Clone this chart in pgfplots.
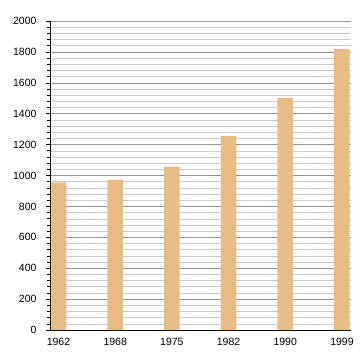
\documentclass[border=0pt]{standalone}
\usepackage{pgfplots}
\pgfplotsset{compat=1.18}
\usetikzlibrary{calc}
\usepackage{fontspec}
\setmainfont{Liberation Sans}
\definecolor{barc}{RGB}{231,187,132}
\definecolor{majg}{RGB}{150,150,150}
\definecolor{ming}{RGB}{205,205,205}
\begin{document}
\begin{tikzpicture}
\begin{axis}[
  scale only axis,
  width=301bp, height=309bp,
  xmin=-0.15, xmax=5.16,
  ymin=0, ymax=2000,
  axis x line*=bottom,
  axis y line*=left,
  xtick={0,1,2,3,4,5},
  xticklabels={1962,1968,1975,1982,1990,1999},
  x tick style={draw=none},
  ytick={0,200,...,2000},
  minor y tick num=4,
  ymajorgrids, yminorgrids,
  major grid style={majg, line width=0.6pt},
  minor grid style={ming, line width=0.5pt},
  tick align=outside,
  major tick length=4bp,
  minor tick length=2.5bp,
  y tick style={black, line width=0.6pt},
  axis line style={black, line width=0.9pt},
  tick label style={font=\fontsize{10.5bp}{12bp}\selectfont},
  xticklabel style={yshift=-1bp},
  yticklabel style={xshift=-6bp},
  /pgf/number format/assume math mode=true,
  /pgf/number format/1000 sep={},
  clip=false,
]
\addplot[ybar, bar width=15.5bp, fill=barc, draw=none] coordinates {
  (0,956) (1,971) (2,1057) (3,1256) (4,1503) (5,1819)
};
\end{axis}
\useasboundingbox ($(current axis.south west)+(-50bp,-30bp)$) rectangle ($(current axis.north east)+(9bp,21bp)$);
\end{tikzpicture}
\end{document}
